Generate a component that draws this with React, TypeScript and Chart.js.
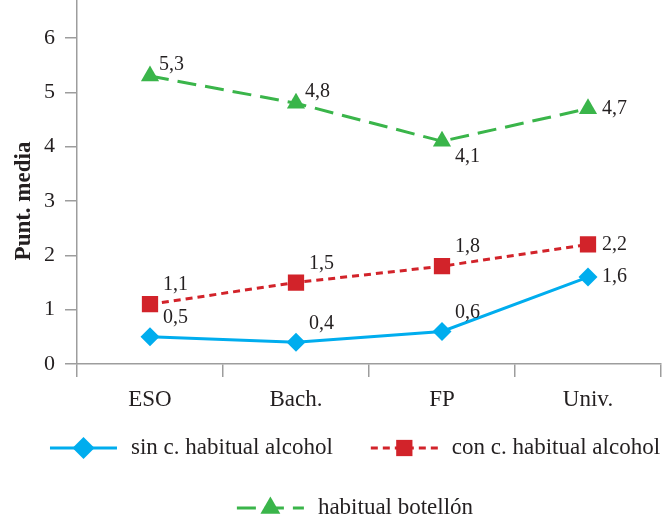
import { useEffect, useRef } from 'react';
import { Chart, registerables } from 'chart.js';
import { drawPoint } from 'chart.js/helpers';

Chart.register(...registerables);

// Nivel de estudios
const categories = ['ESO', 'Bach.', 'FP', 'Univ.'];

// Puntuación media por grupo
const sinHabitual = [0.5, 0.4, 0.6, 1.6];
const conHabitual = [1.1, 1.5, 1.8, 2.2];
const habitualBotellon = [5.3, 4.8, 4.1, 4.7];

const seriesNames = ['sin c. habitual alcohol', 'con c. habitual alcohol', 'habitual botellón'];

const yTitle = 'Punt. media';
const yMin = 0;
const yMax = 6.7;
const yStep = 1;

const FONT = '"Liberation Serif", "Times New Roman", serif';
const TEXT = '#231f20';
const AXIS = '#9d9d9d';

// where each value label sits relative to its point
const LABEL_OFFSETS: Record<string, [number, number]> = {
  above: [13, -19],
  right: [14, 0],
  below: [13, 15],
  upperRight: [9, -11],
};

const fmt = (v: number) => v.toFixed(1).replace('.', ',');

const valueLabels = {
  id: 'valueLabels',
  afterDatasetsDraw(chart: any) {
    const { ctx } = chart;
    ctx.save();
    ctx.font = `20px ${FONT}`;
    ctx.fillStyle = TEXT;
    ctx.textAlign = 'left';
    ctx.textBaseline = 'middle';
    chart.data.datasets.forEach((ds: any, i: number) => {
      const meta = chart.getDatasetMeta(i);
      meta.data.forEach((pt: any, j: number) => {
        const [dx, dy] = LABEL_OFFSETS[ds.labelPlacement[j]];
        ctx.fillText(fmt(ds.data[j]), pt.x + dx, pt.y + dy);
      });
    });
    ctx.restore();
  },
};

const axisTitle = {
  id: 'axisTitle',
  afterDraw(chart: any) {
    const { ctx } = chart;
    ctx.save();
    ctx.font = `bold 23px ${FONT}`;
    ctx.fillStyle = TEXT;
    ctx.textAlign = 'center';
    ctx.textBaseline = 'middle';
    ctx.translate(24, 201);
    ctx.rotate(-Math.PI / 2);
    ctx.fillText(yTitle, 0, 0);
    ctx.restore();
  },
};

// legend: line sample with marker, then the series name
const lineLegend = {
  id: 'lineLegend',
  afterDraw(chart: any) {
    const { ctx, chartArea } = chart;
    const rows = [[0, 1], [2]];
    const rowY = [chartArea.bottom + 84, chartArea.bottom + 144];
    const sampleW = 67;
    const textGap = 14;
    const itemGap = 38;
    const centerX = 355;
    ctx.save();
    ctx.font = `23px ${FONT}`;
    rows.forEach((row, r) => {
      const widths = row.map(
        (i) => sampleW + textGap + ctx.measureText(chart.data.datasets[i].label).width
      );
      const total = widths.reduce((a, b) => a + b, 0) + itemGap * (row.length - 1);
      let x = centerX - total / 2;
      const y = rowY[r];
      row.forEach((i, k) => {
        const ds = chart.data.datasets[i];
        ctx.save();
        ctx.strokeStyle = ds.borderColor;
        ctx.lineWidth = ds.borderWidth;
        ctx.setLineDash(ds.borderDash || []);
        ctx.beginPath();
        ctx.moveTo(x, y);
        ctx.lineTo(x + sampleW, y);
        ctx.stroke();
        ctx.setLineDash([]);
        ctx.fillStyle = ds.pointBackgroundColor;
        drawPoint(
          ctx,
          { pointStyle: ds.pointStyle, radius: ds.legendRadius, rotation: 0, borderWidth: 0 } as any,
          x + sampleW / 2,
          y
        );
        ctx.restore();
        ctx.fillStyle = TEXT;
        ctx.textAlign = 'left';
        ctx.textBaseline = 'middle';
        ctx.fillText(ds.label, x + sampleW + textGap, y);
        x += widths[k] + itemGap;
      });
    });
    ctx.restore();
  },
};

export default function App() {
  const canvasRef = useRef<HTMLCanvasElement | null>(null);

  useEffect(() => {
    if (!canvasRef.current) return;
    const chart = new Chart(canvasRef.current, {
      type: 'line',
      data: {
        labels: categories,
        datasets: [
          {
            label: seriesNames[0],
            data: sinHabitual,
            borderColor: '#00adee',
            backgroundColor: '#00adee',
            pointBackgroundColor: '#00adee',
            borderWidth: 3,
            pointStyle: 'rectRot',
            pointRadius: 9.5,
            pointBorderWidth: 0,
            legendRadius: 11,
            labelPlacement: ['above', 'above', 'above', 'right'],
          } as any,
          {
            label: seriesNames[1],
            data: conHabitual,
            borderColor: '#d2232a',
            backgroundColor: '#d2232a',
            pointBackgroundColor: '#d2232a',
            borderWidth: 3,
            borderDash: [7, 5],
            pointStyle: 'rect',
            pointRadius: 11.5,
            pointBorderWidth: 0,
            legendRadius: 11.5,
            labelPlacement: ['above', 'above', 'above', 'right'],
          } as any,
          {
            label: seriesNames[2],
            data: habitualBotellon,
            borderColor: '#3ab54a',
            backgroundColor: '#3ab54a',
            pointBackgroundColor: '#3ab54a',
            borderWidth: 3,
            borderDash: [19, 9],
            pointStyle: 'triangle',
            pointRadius: 10.5,
            pointBorderWidth: 0,
            legendRadius: 11.5,
            labelPlacement: ['upperRight', 'upperRight', 'below', 'right'],
          } as any,
        ],
      },
      options: {
        responsive: false,
        animation: false,
        devicePixelRatio: 1,
        layout: { autoPadding: false, padding: { top: 0, left: 0, right: 6, bottom: 91 } },
        plugins: {
          legend: { display: false },
          tooltip: { enabled: false },
        },
        elements: { line: { tension: 0 } },
        scales: {
          x: {
            offset: true,
            border: { color: AXIS, width: 1.5 },
            grid: {
              offset: true,
              drawOnChartArea: false,
              drawTicks: true,
              tickLength: 13,
              color: AXIS,
              lineWidth: 1.5,
            },
            ticks: { font: { family: FONT, size: 23 }, color: TEXT, padding: 9 },
            afterFit(scale: any) {
              scale.height = 60;
              scale.paddingLeft = 0;
              scale.paddingRight = 0;
            },
          },
          y: {
            min: yMin,
            max: yMax,
            border: { color: AXIS, width: 1.5 },
            grid: {
              drawOnChartArea: false,
              drawTicks: true,
              tickLength: 12,
              color: AXIS,
              lineWidth: 1.5,
            },
            ticks: {
              stepSize: yStep,
              includeBounds: false,
              font: { family: FONT, size: 22 },
              color: TEXT,
              padding: 10,
            },
            afterFit(scale: any) {
              scale.width = 77;
              scale.paddingTop = 0;
              scale.paddingBottom = 0;
            },
          },
        },
      },
      plugins: [valueLabels, axisTitle, lineLegend],
    });
    return () => chart.destroy();
  }, []);

  return (
    <div style={{ position: 'fixed', left: 0, top: 0, width: 667, height: 515, background: '#fff' }}>
      <canvas ref={canvasRef} width={667} height={515} style={{ display: 'block' }} />
    </div>
  );
}
